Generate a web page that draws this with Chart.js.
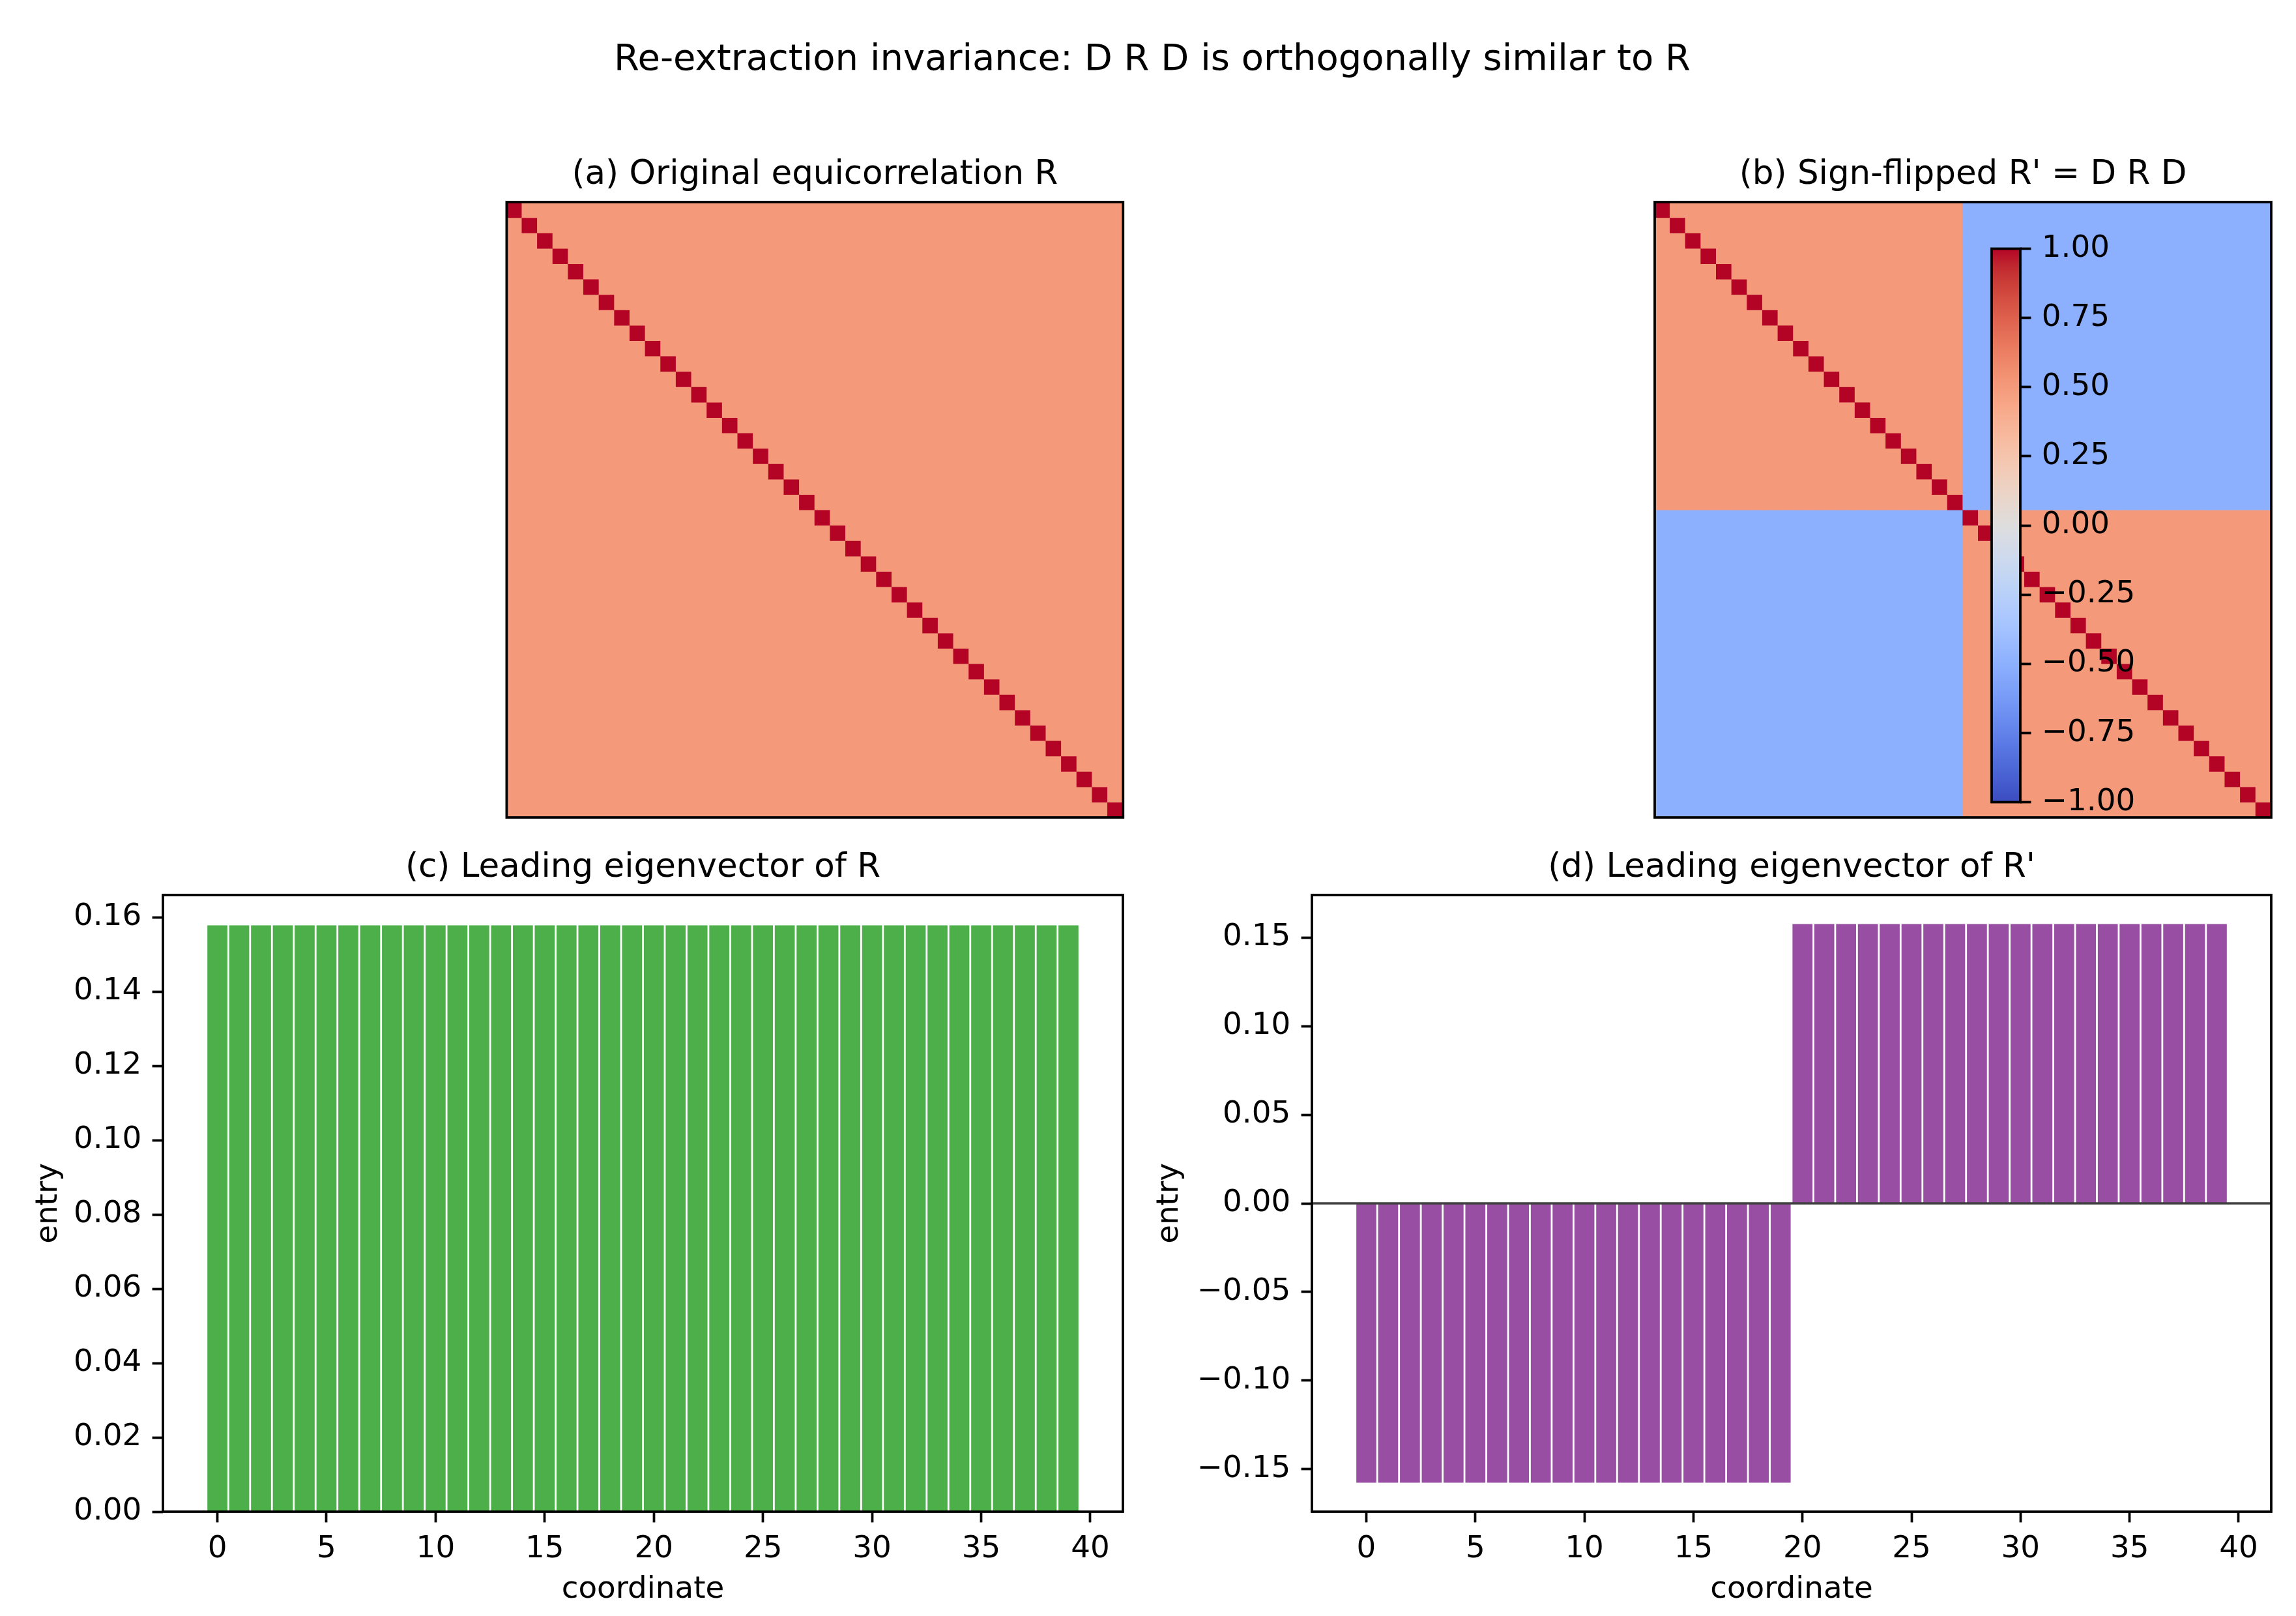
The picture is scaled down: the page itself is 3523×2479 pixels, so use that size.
<!DOCTYPE html>
<html>
<head>
<meta charset="utf-8">
<script src="https://cdn.jsdelivr.net/npm/chart.js@4.4.1/dist/chart.umd.min.js"></script>
<style>
  html, body { margin: 0; padding: 0; background: #ffffff; }
  body { width: 3523px; height: 2479px; position: relative; overflow: hidden; font-family: "DejaVu Sans", sans-serif; }
  canvas { position: absolute; display: block; }
  #suptitle { position: absolute; left: 0; width: 3536px; text-align: center; font-size: 56px; line-height: 67.2px; color: #000; white-space: nowrap; }
</style>
</head>
<body>
<div id="suptitle">Re-extraction invariance: D R D is orthogonally similar to R</div>
<canvas id="panelA"></canvas>
<canvas id="panelB"></canvas>
<canvas id="panelC"></canvas>
<canvas id="panelD"></canvas>
<canvas id="cbar"></canvas>
<script>
// ---------------- DATA ----------------
const coordinates = [0,1,2,3,4,5,6,7,8,9,10,11,12,13,14,15,16,17,18,19,20,21,22,23,24,25,26,27,28,29,30,31,32,33,34,35,36,37,38,39];
const diagValue = 1.0;
const rhoOffDiag = 0.5;
const signsD = [1,1,1,1,1,1,1,1,1,1,1,1,1,1,1,1,1,1,1,1,-1,-1,-1,-1,-1,-1,-1,-1,-1,-1,-1,-1,-1,-1,-1,-1,-1,-1,-1,-1];
const eigenvectorR = [0.1581,0.1581,0.1581,0.1581,0.1581,0.1581,0.1581,0.1581,0.1581,0.1581,0.1581,0.1581,0.1581,0.1581,0.1581,0.1581,0.1581,0.1581,0.1581,0.1581,0.1581,0.1581,0.1581,0.1581,0.1581,0.1581,0.1581,0.1581,0.1581,0.1581,0.1581,0.1581,0.1581,0.1581,0.1581,0.1581,0.1581,0.1581,0.1581,0.1581];
const eigenvectorRprime = [-0.1581,-0.1581,-0.1581,-0.1581,-0.1581,-0.1581,-0.1581,-0.1581,-0.1581,-0.1581,-0.1581,-0.1581,-0.1581,-0.1581,-0.1581,-0.1581,-0.1581,-0.1581,-0.1581,-0.1581,0.1581,0.1581,0.1581,0.1581,0.1581,0.1581,0.1581,0.1581,0.1581,0.1581,0.1581,0.1581,0.1581,0.1581,0.1581,0.1581,0.1581,0.1581,0.1581,0.1581];
const coordinateTicks = [0,5,10,15,20,25,30,35,40];
const entryTicksC = [0,0.02,0.04,0.06,0.08,0.10,0.12,0.14,0.16];
const entryTicksD = [-0.15,-0.10,-0.05,0,0.05,0.10,0.15];
const colorbarTicks = [-1,-0.75,-0.5,-0.25,0,0.25,0.5,0.75,1];
const titles = {
  sup: 'Re-extraction invariance: D R D is orthogonally similar to R',
  a: '(a) Original equicorrelation R',
  b: "(b) Sign-flipped R' = D R D",
  c: '(c) Leading eigenvector of R',
  d: "(d) Leading eigenvector of R'"
};
// coolwarm colormap stops (t, r, g, b)
const coolwarmStops = [
  [0,59,76,192],[0.03125,68,90,204],[0.0625,77,104,215],[0.09375,87,117,225],[0.125,98,130,234],
  [0.15625,108,142,241],[0.1875,119,154,247],[0.21875,130,165,251],[0.25,141,176,254],[0.28125,152,185,255],
  [0.3125,163,194,255],[0.34375,174,201,253],[0.375,184,208,249],[0.40625,194,213,244],[0.4375,204,217,238],
  [0.46875,213,219,230],[0.5,221,221,221],[0.53125,229,216,209],[0.5625,236,211,197],[0.59375,241,204,185],
  [0.625,245,196,173],[0.65625,247,187,160],[0.6875,247,177,148],[0.71875,247,166,135],[0.75,244,154,123],
  [0.78125,241,141,111],[0.8125,236,127,99],[0.84375,229,112,88],[0.875,222,96,77],[0.90625,213,80,66],
  [0.9375,203,62,56],[0.96875,192,40,47],[1,180,4,38]
];

// matrices built from the definitions
const matrixR = coordinates.map(i => coordinates.map(j => i === j ? diagValue : rhoOffDiag));
const matrixRprime = matrixR.map((row, i) => row.map((v, j) => signsD[i] * v * signsD[j]));

// ---------------- STYLE / LAYOUT ----------------
const FONT = 'DejaVu Sans';
const TICK_PX = 46.8, TITLE_PX = 51.5, LABEL_PX = 46.8;
const SPINE = 3.74, TICKLEN = 16.4, TICKPAD = 16.4, XTICKPAD = 13;
const TITLE_PB = 10;
const TITLE_BLOCK = TITLE_PX * 1.2 + TITLE_PB;
const X_HEIGHT = 148;
const CB_W = 220;
const BAR_GREEN = '#4daf4a', BAR_PURPLE = '#984ea3';
const X_MIN = -2.495, X_MAX = 41.495;

Chart.defaults.font.family = FONT;
Chart.defaults.color = '#000';

function cmap(v) {
  const t = (v + 1) / 2;
  for (let k = 1; k < coolwarmStops.length; k++) {
    const a = coolwarmStops[k - 1], b = coolwarmStops[k];
    if (t <= b[0]) {
      const f = (t - a[0]) / (b[0] - a[0]);
      const r = Math.round(a[1] + f * (b[1] - a[1]));
      const g = Math.round(a[2] + f * (b[2] - a[2]));
      const bl = Math.round(a[3] + f * (b[3] - a[3]));
      return `rgb(${r},${g},${bl})`;
    }
  }
  const l = coolwarmStops[coolwarmStops.length - 1];
  return `rgb(${l[1]},${l[2]},${l[3]})`;
}
function fmt2(v) { const s = Math.abs(v).toFixed(2); return (v < -1e-9 ? '\u2212' : '') + s; }

// position a canvas so that the chart area lands on `area`; returns layout padding
function mount(id, area, sides) {
  const ol = area.L - sides.left, ot = area.T - sides.top, or = area.R + sides.right, ob = area.B + sides.bottom;
  const cl = Math.floor(ol) - 20, ct = Math.floor(ot) - 20;
  const cr = Math.ceil(or) + 40, cb = Math.ceil(ob) + 30;
  const c = document.getElementById(id);
  c.width = cr - cl; c.height = cb - ct;
  c.style.left = cl + 'px'; c.style.top = ct + 'px';
  c.style.width = (cr - cl) + 'px'; c.style.height = (cb - ct) + 'px';
  return { c, padding: { left: ol - cl, top: ot - ct, right: cr - or, bottom: cb - ob } };
}

const framePlugin = {
  id: 'frame',
  afterDraw(chart) {
    const { ctx, chartArea: a } = chart;
    ctx.save();
    ctx.strokeStyle = '#000';
    ctx.lineWidth = SPINE;
    ctx.strokeRect(a.left, a.top, a.right - a.left, a.bottom - a.top);
    ctx.restore();
  }
};
const zeroLinePlugin = {
  id: 'zeroLine',
  afterDatasetsDraw(chart) {
    const { ctx, chartArea: a, scales } = chart;
    const y = scales.y.getPixelForValue(0);
    ctx.save();
    ctx.strokeStyle = '#404040';
    ctx.lineWidth = 3.6;
    ctx.beginPath(); ctx.moveTo(a.left, y); ctx.lineTo(a.right, y); ctx.stroke();
    ctx.restore();
  }
};

function titleOpts(text) {
  return { display: true, text, fullSize: false, position: 'top', align: 'center', color: '#000',
           font: { family: FONT, size: TITLE_PX, weight: 'normal', lineHeight: 1.2 },
           padding: { top: 0, bottom: TITLE_PB } };
}
function axisGrid() {
  return { display: true, drawOnChartArea: false, drawTicks: true, tickLength: TICKLEN,
           tickWidth: SPINE, tickColor: '#000', color: '#000', offset: false };
}

// ---------------- HEATMAPS ----------------
function heatPanel(id, area, matrix, title) {
  const m = mount(id, area, { left: 0, right: 0, top: TITLE_BLOCK, bottom: 0 });
  const datasets = matrix.map(row => ({
    data: row.map(() => 1),
    backgroundColor: row.map(v => cmap(v)),
    borderWidth: 0, barPercentage: 1, categoryPercentage: 1, inflateAmount: 0.6, stack: 'cells'
  }));
  new Chart(m.c, {
    type: 'bar',
    data: { labels: coordinates.map(String), datasets },
    options: {
      responsive: false, animation: false, devicePixelRatio: 1,
      layout: { padding: m.padding },
      plugins: { legend: { display: false }, tooltip: { enabled: false }, title: titleOpts(title) },
      scales: {
        x: { type: 'category', display: false, stacked: true, offset: true },
        y: { type: 'linear', display: false, stacked: true, min: 0, max: coordinates.length, reverse: true }
      }
    },
    plugins: [framePlugin]
  });
}

// ---------------- BAR PANELS ----------------
function barPanel(id, area, values, color, yMin, yMax, yTicks, yWidth, title, extra) {
  const m = mount(id, area, { left: yWidth, right: 0, top: TITLE_BLOCK, bottom: X_HEIGHT });
  new Chart(m.c, {
    type: 'bar',
    data: { datasets: [{
      data: coordinates.map((c, i) => ({ x: c, y: values[i] })),
      backgroundColor: color, borderColor: '#ffffff', borderWidth: 1.4,
      barPercentage: 1, categoryPercentage: 1, inflateAmount: 0
    }] },
    options: {
      responsive: false, animation: false, devicePixelRatio: 1,
      layout: { padding: m.padding },
      plugins: { legend: { display: false }, tooltip: { enabled: false }, title: titleOpts(title) },
      scales: {
        x: {
          type: 'linear', min: X_MIN, max: X_MAX, offset: false,
          afterBuildTicks: s => { s.ticks = coordinateTicks.map(v => ({ value: v })); },
          afterFit: s => { s.height = X_HEIGHT; },
          grid: axisGrid(), border: { display: false },
          ticks: { font: { family: FONT, size: TICK_PX }, color: '#000', padding: XTICKPAD,
                   maxRotation: 0, autoSkip: false, callback: v => String(v) },
          title: { display: true, text: 'coordinate', color: '#000',
                   font: { family: FONT, size: LABEL_PX, lineHeight: 1.2 }, padding: 0 }
        },
        y: {
          type: 'linear', min: yMin, max: yMax,
          afterBuildTicks: s => { s.ticks = yTicks.map(v => ({ value: v })); },
          afterFit: s => { s.width = yWidth; },
          grid: axisGrid(), border: { display: false },
          ticks: { font: { family: FONT, size: TICK_PX }, color: '#000', padding: TICKPAD,
                   autoSkip: false, callback: v => fmt2(v) },
          title: { display: true, text: 'entry', color: '#000',
                   font: { family: FONT, size: LABEL_PX, lineHeight: 1.2 }, padding: 0 }
        }
      }
    },
    plugins: extra ? [extra, framePlugin] : [framePlugin]
  });
}

// ---------------- COLORBAR ----------------
function colorbar(id, area) {
  const m = mount(id, area, { left: 0, right: CB_W, top: 20, bottom: 20 });
  new Chart(m.c, {
    type: 'bar',
    data: { labels: ['colorbar'], datasets: [{
      data: [[colorbarTicks[0], colorbarTicks[colorbarTicks.length - 1]]],
      backgroundColor: (ctx) => {
        const ch = ctx.chart;
        if (!ch.chartArea) return '#dddddd';
        const ys = ch.scales.y;
        const g = ch.ctx.createLinearGradient(0, ys.getPixelForValue(-1), 0, ys.getPixelForValue(1));
        coolwarmStops.forEach(s => g.addColorStop(s[0], `rgb(${s[1]},${s[2]},${s[3]})`));
        return g;
      },
      borderWidth: 0, barPercentage: 1, categoryPercentage: 1, inflateAmount: 0
    }] },
    options: {
      responsive: false, animation: false, devicePixelRatio: 1,
      layout: { padding: m.padding },
      plugins: { legend: { display: false }, tooltip: { enabled: false }, title: { display: false } },
      scales: {
        x: { display: false },
        y: {
          position: 'right', min: -1, max: 1,
          afterBuildTicks: s => { s.ticks = colorbarTicks.map(v => ({ value: v })); },
          afterFit: s => { s.width = CB_W; },
          grid: axisGrid(), border: { display: false },
          ticks: { font: { family: FONT, size: TICK_PX }, color: '#000', padding: TICKPAD,
                   autoSkip: false, callback: v => fmt2(v) }
        }
      }
    },
    plugins: [framePlugin]
  });
}

// suptitle placement
document.getElementById('suptitle').style.top = '53.5px';

heatPanel('panelA', { L: 777.4, T: 310, R: 1723.3, B: 1254 }, matrixR, titles.a);
heatPanel('panelB', { L: 2539, T: 310, R: 3485, B: 1254 }, matrixRprime, titles.b);
barPanel('panelC', { L: 250, T: 1373, R: 1723, B: 2319 }, eigenvectorR, BAR_GREEN,
         0, 0.166, entryTicksC, 202.8, titles.c, null);
barPanel('panelD', { L: 2013, T: 1373, R: 3485, B: 2319 }, eigenvectorRprime, BAR_PURPLE,
         -0.1739, 0.1739, entryTicksD, 245.8, titles.d, zeroLinePlugin);
colorbar('cbar', { L: 3056, T: 377.5, R: 3100, B: 1224.5 });
</script>
</body>
</html>
